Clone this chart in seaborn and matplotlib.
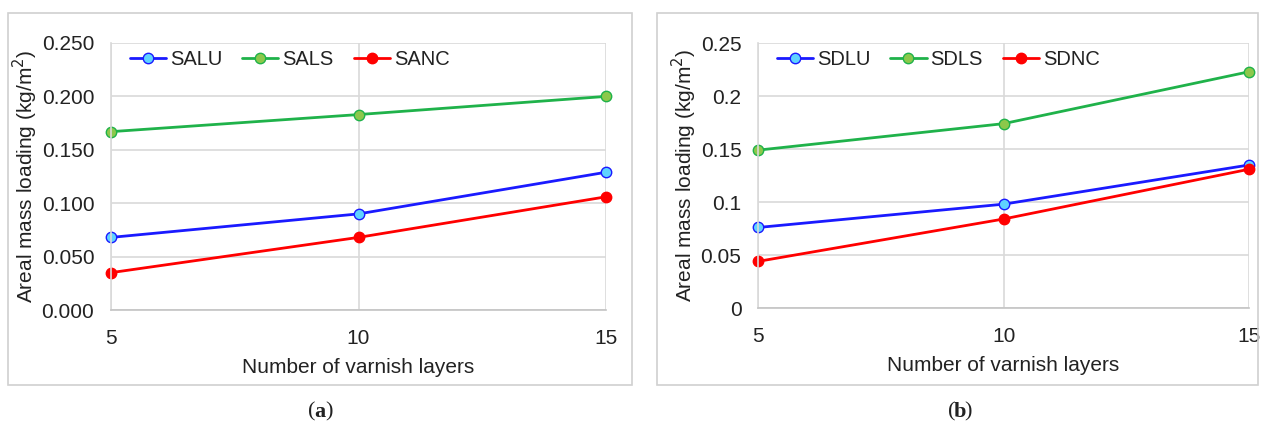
import matplotlib
matplotlib.use("Agg")
import matplotlib.pyplot as plt
from matplotlib.patches import Rectangle
import seaborn as sns
import pandas as pd

# Number of varnish layers
layers = [5, 10, 15]

# Panel (a) series, kg/m^2
salu = [0.068, 0.090, 0.129]
sals = [0.167, 0.183, 0.200]
sanc = [0.035, 0.068, 0.106]

# Panel (b) series, kg/m^2
sdlu = [0.076, 0.098, 0.135]
sdls = [0.149, 0.174, 0.223]
sdnc = [0.044, 0.084, 0.131]

yticks = [0.0, 0.05, 0.10, 0.15, 0.20, 0.25]
yticklabels_a = ["0.000", "0.050", "0.100", "0.150", "0.200", "0.250"]
yticklabels_b = ["0", "0.05", "0.1", "0.15", "0.2", "0.25"]

sns.set_theme(style="white")
plt.rcParams["font.family"] = ["Liberation Sans", "DejaVu Sans"]
plt.rcParams["text.color"] = "#222222"
plt.rcParams["axes.labelcolor"] = "#222222"
plt.rcParams["xtick.color"] = "#222222"
plt.rcParams["ytick.color"] = "#222222"

# line colour, marker face colour
styles = [("#1a1aff", "#5fd3ff"), ("#1fb24a", "#8cc84b"), ("#ff0000", "#ff0000")]

fig = plt.figure(figsize=(12.63, 4.30), dpi=100)

# Light frames around each panel
for x0, w in [(0.0063, 0.494), (0.5202, 0.4759)]:
    fig.add_artist(Rectangle((x0, 0.1047), w, 0.865, transform=fig.transFigure,
                             fill=False, edgecolor="#d0d0d0", linewidth=1.2))

ax_a = fig.add_axes([0.0879, 0.279, 0.3919, 0.621])
ax_b = fig.add_axes([0.6002, 0.2837, 0.3888, 0.616])


def draw(ax, names, series, ylabels):
    for name, vals, (lc, fc) in zip(names, series, styles):
        df = pd.DataFrame({"layers": layers, "load": vals})
        sns.lineplot(data=df, x="layers", y="load", ax=ax, color=lc, linewidth=2,
                     marker="o", markersize=7.5, markerfacecolor=fc,
                     markeredgecolor=lc, markeredgewidth=1.0, label=name)
    ax.set_xlim(5, 15)
    ax.set_ylim(0, 0.25)
    ax.set_xticks(layers)
    ax.set_xticklabels([str(v) for v in layers], fontsize=15)
    ax.set_yticks(yticks)
    ax.set_yticklabels(ylabels, fontsize=15)
    ax.tick_params(length=0)
    ax.tick_params(axis="y", pad=12)
    ax.tick_params(axis="x", pad=14)
    ax.grid(True, color="#d9d9d9", linewidth=1.2)
    for side in ["top", "right"]:
        ax.spines[side].set_visible(False)
    ax.spines["left"].set_color("#d9d9d9")
    ax.spines["bottom"].set_color("#c4c4c4")
    for side in ["left", "bottom"]:
        ax.spines[side].set_linewidth(1.2)
    ax.set_xlabel("Number of varnish layers", fontsize=15, labelpad=7)
    ax.set_ylabel("Areal mass loading (kg/m$^2$)", fontsize=15, labelpad=1)
    ax.legend(loc="upper left", ncol=3, frameon=False, fontsize=14.5,
              handlelength=1.8, handletextpad=0.2, columnspacing=1.0,
              borderaxespad=0.2, bbox_to_anchor=(0.013, 1.02))
    for line in ax.lines:
        line.set_clip_on(False)


draw(ax_a, ["SALU", "SALS", "SANC"], [salu, sals, sanc], yticklabels_a)
draw(ax_b, ["SDLU", "SDLS", "SDNC"], [sdlu, sdls, sdnc], yticklabels_b)

serif = ["Liberation Serif", "DejaVu Serif"]
for xc, letter in [(0.2534, "a"), (0.7600, "b")]:
    fig.text(xc - 0.0038, 0.042, "(", fontsize=16, ha="right", va="center",
             family=serif)
    fig.text(xc, 0.042, letter, fontsize=16, ha="center", va="center",
             fontweight="bold", family=serif)
    fig.text(xc + 0.0038, 0.042, ")", fontsize=16, ha="left", va="center",
             family=serif)

fig.savefig("out.png", dpi=100)
